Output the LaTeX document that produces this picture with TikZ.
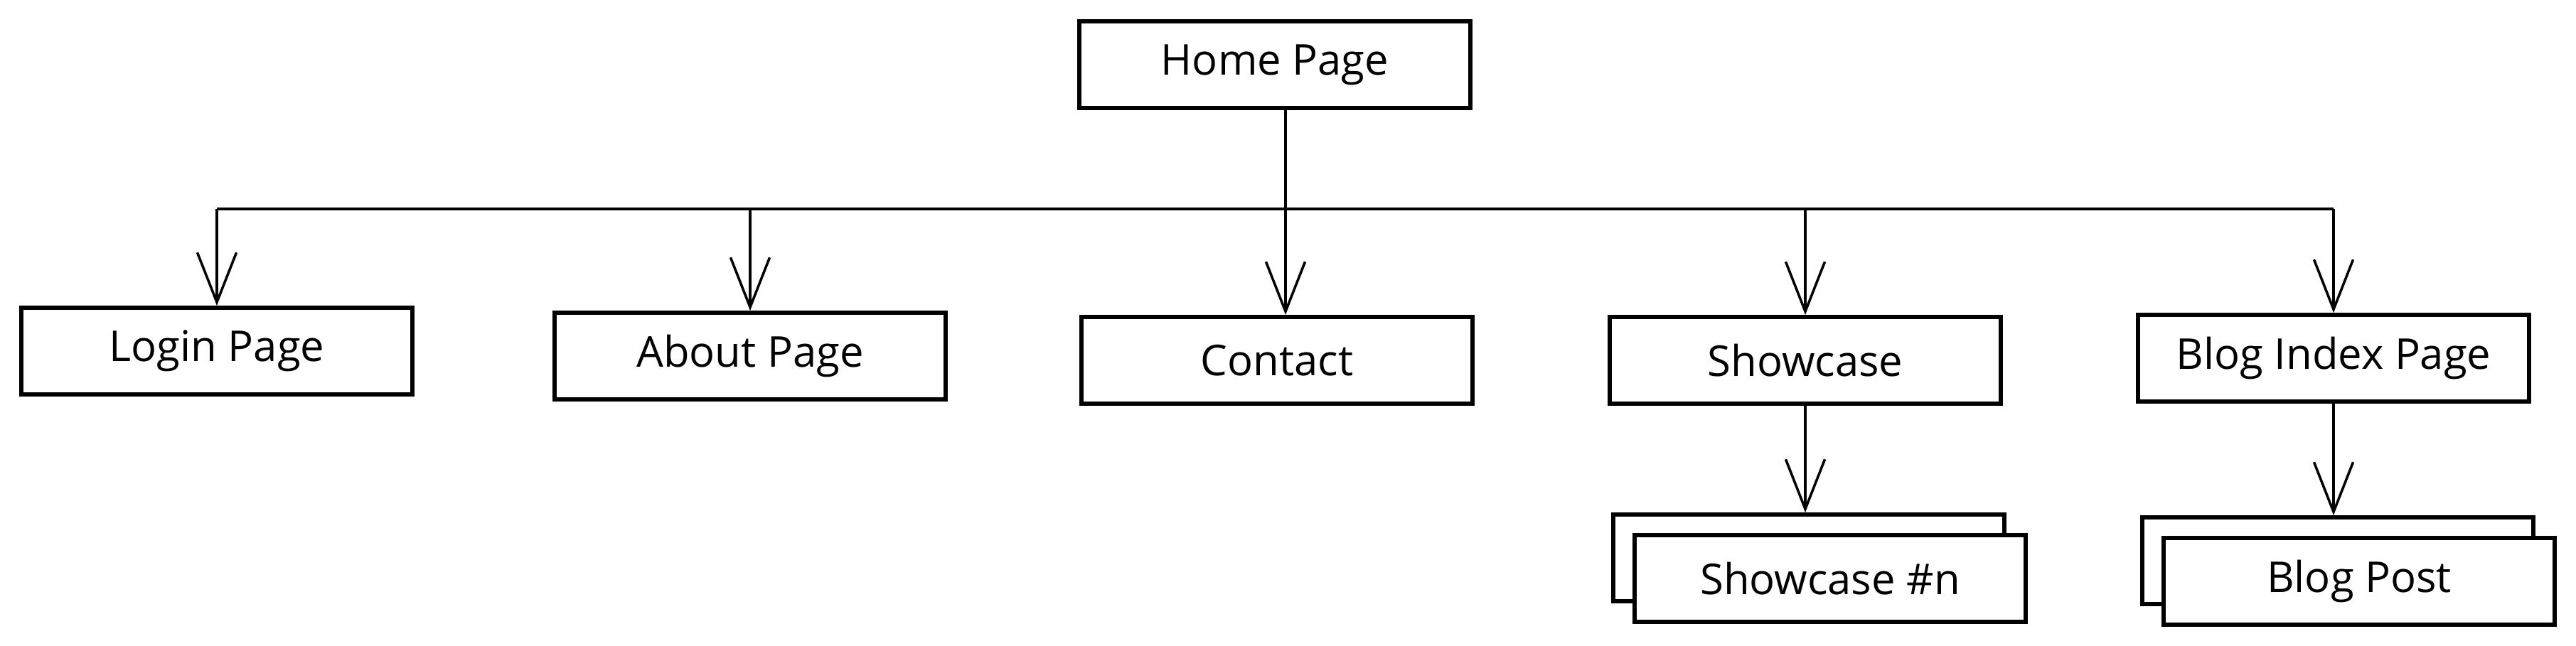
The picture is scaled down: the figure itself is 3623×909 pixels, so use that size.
\documentclass[tikz,border=0pt]{standalone}
\usepackage{fontspec}
\setmainfont{Open Sans}
\usepackage{tikz}
\usetikzlibrary{arrows.meta}

\begin{document}
\begin{tikzpicture}[x=0.01cm, y=-0.01cm,
  page/.style={draw, line width=1.6pt, fill=white, inner sep=0pt,
    minimum width=5.5cm, minimum height=1.22cm},
  link/.style={line width=1pt, -{Straight Barb[length=7mm, width=5.5mm]}}]

  \fontsize{17}{20}\selectfont

  \newcommand\BUSY{294}
  \newcommand\STACKX{-30}
  \newcommand\STACKY{-29}

  \useasboundingbox (0, 0) rectangle (3623, 909);

  % top level
  \node[page] (home) at (1793, 91) {Home Page};

  \node[page] (login)    at (305, 494)  {Login Page};
  \node[page] (about)    at (1055, 501) {About Page};
  \node[page] (contact)  at (1796, 507) {Contact};
  \node[page] (showcase) at (2539, 507) {Showcase};
  \node[page] (blogidx)  at (3282, 504) {Blog Index Page};

  % stacked pages
  \node[page] (scnback) at (2574+\STACKX, 814+\STACKY) {};
  \node[page] (scn)     at (2574, 814) {Showcase \#n};
  \node[page] (postback) at (3318+\STACKX, 818+\STACKY) {};
  \node[page] (post)     at (3318, 818) {Blog Post};

  \coordinate (bus) at (0, \BUSY);
  \coordinate (drop) at ([xshift=0.15cm]home.south);

  \draw[line width=1.2pt] (login.north |- bus) -- (blogidx.north |- bus);
  \draw[link] (drop) -- (drop |- contact.north);

  \foreach \p in {login, about, showcase, blogidx}
    \draw[link] (\p.north |- bus) -- (\p.north);

  \draw[link] (showcase.south) -- (showcase.south |- scnback.north);
  \draw[link] (blogidx.south) -- (blogidx.south |- postback.north);

\end{tikzpicture}
\end{document}
